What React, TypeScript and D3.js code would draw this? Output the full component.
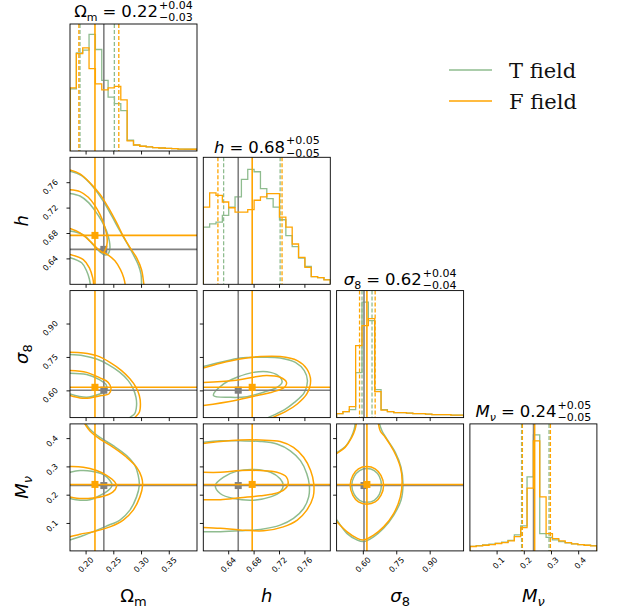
import React from "react";
import * as d3 from "d3";

// ---------- layout ----------
const LEFT = 70, TOP = 24, SIZE = 127, PITCH = 133.3;
const GREEN = "#8fbc8f", ORANGE = "#ffa500", GRAY = "#808080";
const FONT = "DejaVu Sans";

// ---------- axes ----------
const X_DOMAINS: number[][] = [[0.171, 0.40], [0.60, 0.80], [0.48, 1.05], [0.0, 0.467]];
const Y_DOMAINS: number[][] = [[0, 1], [0.60, 0.80], [0.48, 1.05], [0.003, 0.452]];
const TICKS: number[][] = [[0.20, 0.25, 0.30, 0.35], [0.64, 0.68, 0.72, 0.76], [0.60, 0.75, 0.90], [0.1, 0.2, 0.3, 0.4]];
const TICK_FORMATS = [".2f", ".2f", ".2f", ".1f"];
const HIST_MAX = 1.1;

// ---------- 1D histograms (20 bins over the axis range) ----------
const histOmT = [0.538, 0.850, 0.873, 1.01, 0.879, 0.611, 0.466, 0.41, 0.35, 0.093, 0.052, 0.041, 0.035, 0.029, 0.026, 0.023, 0.020, 0.017, 0.015, 0.015];
const histOmF = [0.547, 0.844, 0.893, 0.713, 0.582, 0.530, 0.547, 0.559, 0.442, 0.087, 0.052, 0.041, 0.035, 0.029, 0.026, 0.023, 0.020, 0.017, 0.017, 0.015];
const histHT = [0.495, 0.524, 0.538, 0.597, 0.669, 0.757, 0.908, 0.995, 0.975, 0.829, 0.742, 0.669, 0.559, 0.422, 0.326, 0.227, 0.154, 0.067, 0.058, 0.041];
const histHF = [0.669, 0.792, 0.771, 0.713, 0.663, 0.626, 0.626, 0.646, 0.728, 0.757, 0.786, 0.786, 0.582, 0.495, 0.349, 0.233, 0.146, 0.067, 0.058, 0.038];
const histS8T = [0.035, 0.052, 0.069, 0.390, 1.0, 0.840, 0.243, 0.069, 0.052, 0.043, 0.043, 0.039, 0.035, 0.035, 0.030, 0.026, 0.026, 0.026, 0.022, 0.022];
const histS8F = [0.035, 0.052, 0.095, 0.624, 0.797, 0.857, 0.225, 0.065, 0.052, 0.043, 0.043, 0.039, 0.035, 0.035, 0.030, 0.026, 0.026, 0.026, 0.022, 0.022];
const histMnuT = [0.040, 0.046, 0.052, 0.058, 0.066, 0.075, 0.092, 0.139, 0.217, 0.641, 1.005, 0.150, 0.118, 0.095, 0.081, 0.069, 0.061, 0.055, 0.049, 0.046];
const histMnuF = [0.038, 0.043, 0.049, 0.055, 0.064, 0.072, 0.087, 0.124, 0.202, 0.543, 0.953, 0.468, 0.150, 0.107, 0.087, 0.072, 0.061, 0.055, 0.049, 0.043];

// ---------- quantiles (16%, 84%) ----------
const qOmT = [0.189, 0.251], qOmF = [0.187, 0.259];
const qHT = [0.632, 0.721], qHF = [0.623, 0.724];
const qS8T = [0.594, 0.639], qS8F = [0.583, 0.653];
const qMnuT = [0.190, 0.291], qMnuF = [0.193, 0.296];

// ---------- truths ----------
const truthT = [0.232, 0.655, 0.603, 0.234];
const truthF = [0.216, 0.677, 0.616, 0.238];

// ---------- 2D contours (data coordinates) ----------
// row 1 (h) vs col 0 (Omega_m)
const omH_T_outer = [[0.171, 0.778], [0.192, 0.771], [0.213, 0.753], [0.231, 0.731], [0.246, 0.708], [0.261, 0.684], [0.273, 0.666], [0.285, 0.647], [0.294, 0.631], [0.299, 0.616], [0.300, 0.601], [0.300, 0.585]];
const omH_F_outer = [[0.171, 0.780], [0.189, 0.774], [0.207, 0.760], [0.225, 0.742], [0.240, 0.721], [0.255, 0.697], [0.267, 0.676], [0.279, 0.658], [0.291, 0.642], [0.300, 0.623], [0.304, 0.601], [0.306, 0.585]];
const omH_T_inner = [[0.171, 0.743], [0.189, 0.739], [0.204, 0.729], [0.216, 0.716], [0.228, 0.700], [0.237, 0.684], [0.242, 0.668], [0.243, 0.657], [0.240, 0.648], [0.234, 0.646], [0.225, 0.651], [0.213, 0.662], [0.195, 0.678], [0.171, 0.684]];
const omH_F_inner = [[0.171, 0.749], [0.189, 0.746], [0.204, 0.737], [0.216, 0.724], [0.225, 0.710], [0.232, 0.695], [0.237, 0.679], [0.238, 0.666], [0.236, 0.657], [0.231, 0.650], [0.222, 0.655], [0.207, 0.668], [0.189, 0.681], [0.171, 0.688]];
const omH_F_island = [[0.231, 0.650], [0.240, 0.646], [0.252, 0.637], [0.262, 0.623], [0.268, 0.610], [0.271, 0.597], [0.272, 0.585]];
const omH_T_low = [[0.171, 0.642], [0.192, 0.634], [0.201, 0.621], [0.206, 0.608], [0.208, 0.597], [0.209, 0.585]];
const omH_F_low = [[0.171, 0.647], [0.195, 0.639], [0.206, 0.626], [0.212, 0.610], [0.214, 0.597], [0.215, 0.585]];
// row 2 (sigma8) vs col 0
const omS8_T_outer = [[0.171, 0.763], [0.195, 0.758], [0.219, 0.743], [0.240, 0.718], [0.261, 0.683], [0.276, 0.646], [0.285, 0.609], [0.290, 0.571], [0.291, 0.534], [0.288, 0.499], [0.279, 0.480], [0.273, 0.465]];
const omS8_F_outer = [[0.171, 0.773], [0.195, 0.770], [0.219, 0.758], [0.243, 0.728], [0.264, 0.691], [0.279, 0.654], [0.290, 0.616], [0.296, 0.579], [0.298, 0.541], [0.296, 0.504], [0.288, 0.480], [0.283, 0.465]];
const omS8_T_inner = [[0.171, 0.679], [0.201, 0.673], [0.225, 0.649], [0.236, 0.628], [0.237, 0.601], [0.225, 0.586], [0.201, 0.571], [0.171, 0.586]];
const omS8_F_inner = [[0.171, 0.691], [0.201, 0.683], [0.225, 0.658], [0.240, 0.638], [0.245, 0.609], [0.241, 0.586], [0.228, 0.579], [0.207, 0.568], [0.189, 0.568], [0.171, 0.579]];
// row 2 (sigma8) vs col 1 (h)
const hS8_T_outer = [[0.600, 0.709], [0.627, 0.728], [0.658, 0.748], [0.690, 0.751], [0.721, 0.748], [0.745, 0.728], [0.759, 0.691], [0.764, 0.646], [0.759, 0.592], [0.743, 0.547], [0.728, 0.516], [0.702, 0.480], [0.694, 0.470]];
const hS8_F_outer = [[0.600, 0.703], [0.627, 0.724], [0.658, 0.743], [0.690, 0.754], [0.721, 0.754], [0.748, 0.736], [0.763, 0.699], [0.769, 0.646], [0.763, 0.586], [0.748, 0.541], [0.732, 0.511], [0.709, 0.480], [0.700, 0.470]];
const hS8_T_inner = [[0.616, 0.579], [0.632, 0.631], [0.653, 0.661], [0.679, 0.683], [0.706, 0.683], [0.721, 0.661], [0.724, 0.638], [0.716, 0.616], [0.695, 0.594], [0.669, 0.574], [0.643, 0.571]];
const hS8_F_inner = [[0.600, 0.638], [0.648, 0.646], [0.679, 0.661], [0.700, 0.669], [0.721, 0.661], [0.731, 0.638], [0.728, 0.616], [0.708, 0.594], [0.685, 0.579], [0.648, 0.556], [0.600, 0.534]];
// row 3 (M_nu) vs col 0
const omMnu_T_outer = [[0.195, 0.465], [0.200, 0.451], [0.207, 0.433], [0.225, 0.404], [0.249, 0.375], [0.273, 0.340], [0.288, 0.305], [0.294, 0.270], [0.296, 0.235], [0.291, 0.194], [0.279, 0.147], [0.261, 0.112], [0.237, 0.091], [0.213, 0.071], [0.189, 0.053], [0.171, 0.042], [0.160, 0.036]];
const omMnu_F_outer = [[0.193, 0.465], [0.198, 0.451], [0.207, 0.427], [0.225, 0.398], [0.249, 0.369], [0.273, 0.334], [0.291, 0.299], [0.300, 0.264], [0.302, 0.235], [0.297, 0.194], [0.285, 0.147], [0.267, 0.112], [0.243, 0.088], [0.213, 0.071], [0.189, 0.062], [0.171, 0.053], [0.160, 0.048]];
const omMnu_T_inner = [[0.171, 0.281], [0.189, 0.287], [0.210, 0.285], [0.231, 0.273], [0.243, 0.252], [0.247, 0.235], [0.240, 0.217], [0.225, 0.199], [0.207, 0.184], [0.189, 0.182], [0.171, 0.188]];
const omMnu_F_inner = [[0.171, 0.301], [0.195, 0.299], [0.219, 0.287], [0.237, 0.270], [0.252, 0.246], [0.255, 0.231], [0.248, 0.211], [0.231, 0.196], [0.213, 0.190], [0.192, 0.188], [0.171, 0.194]];
// row 3 vs col 1
const hMnu_T_outer = [[0.600, 0.387], [0.627, 0.392], [0.658, 0.392], [0.690, 0.390], [0.716, 0.381], [0.737, 0.357], [0.753, 0.322], [0.763, 0.276], [0.767, 0.235], [0.766, 0.194], [0.758, 0.153], [0.742, 0.118], [0.721, 0.094], [0.690, 0.079], [0.658, 0.074], [0.627, 0.071], [0.600, 0.071]];
const hMnu_F_outer = [[0.600, 0.383], [0.627, 0.390], [0.658, 0.395], [0.690, 0.395], [0.721, 0.390], [0.742, 0.369], [0.758, 0.334], [0.769, 0.287], [0.774, 0.240], [0.773, 0.194], [0.763, 0.147], [0.748, 0.112], [0.726, 0.088], [0.695, 0.074], [0.658, 0.077], [0.627, 0.083], [0.600, 0.086]];
const hMnu_T_inner = [[0.619, 0.235], [0.632, 0.264], [0.653, 0.285], [0.679, 0.291], [0.706, 0.281], [0.721, 0.258], [0.726, 0.235], [0.721, 0.211], [0.706, 0.194], [0.679, 0.182], [0.648, 0.188], [0.627, 0.205]];
const hMnu_F_inner = [[0.600, 0.281], [0.627, 0.281], [0.658, 0.287], [0.690, 0.287], [0.716, 0.281], [0.731, 0.264], [0.733, 0.235], [0.726, 0.217], [0.711, 0.205], [0.690, 0.198], [0.658, 0.191], [0.627, 0.184], [0.600, 0.184]];
// row 3 vs col 2 (sigma8)
const s8Mnu_T_outer = [[0.670, 0.465], [0.673, 0.451], [0.684, 0.427], [0.706, 0.398], [0.744, 0.351], [0.769, 0.299], [0.778, 0.240], [0.769, 0.182], [0.736, 0.129], [0.691, 0.083], [0.646, 0.053], [0.601, 0.036], [0.571, 0.042], [0.526, 0.065], [0.481, 0.112], [0.470, 0.122]];
const s8Mnu_F_outer = [[0.665, 0.465], [0.668, 0.451], [0.676, 0.427], [0.699, 0.404], [0.736, 0.357], [0.766, 0.299], [0.774, 0.252], [0.766, 0.194], [0.736, 0.135], [0.691, 0.088], [0.646, 0.059], [0.601, 0.042], [0.571, 0.048], [0.526, 0.071], [0.481, 0.106], [0.470, 0.115]];
const s8Mnu_T_upper = [[0.470, 0.346], [0.481, 0.351], [0.518, 0.371], [0.545, 0.404], [0.559, 0.433], [0.563, 0.451], [0.565, 0.465]];
const s8Mnu_F_upper = [[0.470, 0.343], [0.481, 0.348], [0.518, 0.369], [0.548, 0.404], [0.563, 0.433], [0.568, 0.451], [0.570, 0.465]];
const s8Mnu_T_inner = [[0.548, 0.235], [0.559, 0.266], [0.583, 0.287], [0.616, 0.294], [0.649, 0.287], [0.672, 0.266], [0.681, 0.235], [0.672, 0.203], [0.649, 0.182], [0.616, 0.175], [0.583, 0.182], [0.559, 0.203]];
const s8Mnu_F_inner = [[0.541, 0.235], [0.553, 0.270], [0.578, 0.293], [0.616, 0.301], [0.653, 0.293], [0.679, 0.270], [0.691, 0.235], [0.679, 0.199], [0.653, 0.176], [0.616, 0.168], [0.578, 0.176], [0.553, 0.199]];

type C = { r: number; c: number; s: "T" | "F"; closed: boolean; pts: number[][] };
const CONTOURS: C[] = [
  { r: 1, c: 0, s: "T", closed: false, pts: omH_T_outer },
  { r: 1, c: 0, s: "T", closed: false, pts: omH_T_inner },
  { r: 1, c: 0, s: "T", closed: false, pts: omH_T_low },
  { r: 1, c: 0, s: "F", closed: false, pts: omH_F_outer },
  { r: 1, c: 0, s: "F", closed: false, pts: omH_F_inner },
  { r: 1, c: 0, s: "F", closed: false, pts: omH_F_island },
  { r: 1, c: 0, s: "F", closed: false, pts: omH_F_low },
  { r: 2, c: 0, s: "T", closed: false, pts: omS8_T_outer },
  { r: 2, c: 0, s: "T", closed: false, pts: omS8_T_inner },
  { r: 2, c: 0, s: "F", closed: false, pts: omS8_F_outer },
  { r: 2, c: 0, s: "F", closed: false, pts: omS8_F_inner },
  { r: 2, c: 1, s: "T", closed: false, pts: hS8_T_outer },
  { r: 2, c: 1, s: "T", closed: true, pts: hS8_T_inner },
  { r: 2, c: 1, s: "F", closed: false, pts: hS8_F_outer },
  { r: 2, c: 1, s: "F", closed: false, pts: hS8_F_inner },
  { r: 3, c: 0, s: "T", closed: false, pts: omMnu_T_outer },
  { r: 3, c: 0, s: "T", closed: false, pts: omMnu_T_inner },
  { r: 3, c: 0, s: "F", closed: false, pts: omMnu_F_outer },
  { r: 3, c: 0, s: "F", closed: false, pts: omMnu_F_inner },
  { r: 3, c: 1, s: "T", closed: false, pts: hMnu_T_outer },
  { r: 3, c: 1, s: "T", closed: true, pts: hMnu_T_inner },
  { r: 3, c: 1, s: "F", closed: false, pts: hMnu_F_outer },
  { r: 3, c: 1, s: "F", closed: false, pts: hMnu_F_inner },
  { r: 3, c: 2, s: "T", closed: false, pts: s8Mnu_T_outer },
  { r: 3, c: 2, s: "T", closed: false, pts: s8Mnu_T_upper },
  { r: 3, c: 2, s: "T", closed: true, pts: s8Mnu_T_inner },
  { r: 3, c: 2, s: "F", closed: false, pts: s8Mnu_F_outer },
  { r: 3, c: 2, s: "F", closed: false, pts: s8Mnu_F_upper },
  { r: 3, c: 2, s: "F", closed: true, pts: s8Mnu_F_inner },
];

const HISTS = [[histOmT, histOmF], [histHT, histHF], [histS8T, histS8F], [histMnuT, histMnuF]];
const QUANTS = [[qOmT, qOmF], [qHT, qHF], [qS8T, qS8F], [qMnuT, qMnuF]];

// ---------- titles ----------
type Part = { t: string; italic?: boolean; small?: boolean };
const TITLE_SYMS: Part[][] = [
  [{ t: "Ω" }, { t: "m", small: true }],
  [{ t: "h", italic: true }],
  [{ t: "σ", italic: true }, { t: "8", small: true }],
  [{ t: "M", italic: true }, { t: "ν", italic: true, small: true }],
];
const TITLE_VALUES = ["0.22", "0.68", "0.62", "0.24"];
const TITLE_PLUS = ["+0.04", "+0.05", "+0.04", "+0.05"];
const TITLE_MINUS = ["−0.03", "−0.05", "−0.04", "−0.05"];
const TITLE_BASE = [17, 152.5, 285, 417];

let _ctx: CanvasRenderingContext2D | null = null;
function textW(s: string, size: number, italic = false, family = FONT) {
  if (!_ctx && typeof document !== "undefined") _ctx = document.createElement("canvas").getContext("2d");
  if (!_ctx) return s.length * size * 0.6;
  _ctx.font = `${italic ? "italic " : ""}${size}px "${family}"`;
  return _ctx.measureText(s).width;
}

const colX = (c: number) => LEFT + c * PITCH;
const rowY = (r: number) => TOP + r * PITCH;
const xScale = (c: number) => d3.scaleLinear().domain(X_DOMAINS[c]).range([colX(c), colX(c) + SIZE]);
const yScale = (r: number) => d3.scaleLinear().domain(Y_DOMAINS[r]).range([rowY(r) + SIZE, rowY(r)]);

function Title({ k }: { k: number }) {
  const F = 16.5, S = 11;
  const cx = colX(k) + SIZE / 2;
  const y = TITLE_BASE[k];
  const items: { t: string; x: number; size: number; dy: number; italic?: boolean }[] = [];
  let x = 0;
  TITLE_SYMS[k].forEach((p) => {
    const size = p.small ? S : F;
    items.push({ t: p.t, x, size, dy: p.small ? 3.5 : 0, italic: p.italic });
    x += textW(p.t, size, p.italic);
  });
  x += 5;
  items.push({ t: "=", x, size: F, dy: 0 });
  x += textW("=", F) + 5;
  items.push({ t: TITLE_VALUES[k], x, size: F, dy: 0 });
  x += textW(TITLE_VALUES[k], F) + 1;
  const wS = Math.max(textW(TITLE_PLUS[k], S), textW(TITLE_MINUS[k], S));
  const x0 = cx - (x + wS) / 2;
  return (
    <g fontFamily={FONT} fill="#000">
      {items.map((it, i) => (
        <text key={i} x={x0 + it.x} y={y + it.dy} fontSize={it.size} fontStyle={it.italic ? "italic" : "normal"}>{it.t}</text>
      ))}
      <text x={x0 + x} y={y - 8.5} fontSize={S}>{TITLE_PLUS[k]}</text>
      <text x={x0 + x} y={y + 4} fontSize={S}>{TITLE_MINUS[k]}</text>
    </g>
  );
}

function AxisLabel({ k, x, y, rotate }: { k: number; x: number; y: number; rotate?: boolean }) {
  const parts = TITLE_SYMS[k];
  return (
    <text x={x} y={y} fontFamily={FONT} fontSize={18} textAnchor="middle" fill="#000"
      transform={rotate ? `rotate(-90, ${x}, ${y})` : undefined}>
      {parts.map((p, i) => (
        <tspan key={i} fontSize={p.small ? 13 : 18} fontStyle={p.italic ? "italic" : "normal"}
          dy={p.small ? 4 : i > 0 && parts[i - 1].small ? -4 : 0}>{p.t}</tspan>
      ))}
    </text>
  );
}

export default function App() {
  const line = d3.line();
  const frames: JSX.Element[] = [];
  const clips: JSX.Element[] = [];
  const ticks: JSX.Element[] = [];
  const tickLabels: JSX.Element[] = [];

  for (let r = 0; r < 4; r++) {
    for (let c = 0; c <= r; c++) {
      const x0 = colX(c), y0 = rowY(r);
      clips.push(
        <clipPath id={`cp-${r}-${c}`} key={`cp-${r}-${c}`}>
          <rect x={x0} y={y0} width={SIZE} height={SIZE} />
        </clipPath>
      );
      frames.push(<rect key={`f-${r}-${c}`} x={x0} y={y0} width={SIZE} height={SIZE} fill="none" stroke="#000" strokeWidth={0.9} />);
      const xs = xScale(c);
      TICKS[c].forEach((t, i) => {
        const tx = xs(t);
        ticks.push(<line key={`tx-${r}-${c}-${i}`} x1={tx} x2={tx} y1={y0 + SIZE} y2={y0 + SIZE + 3.5} stroke="#000" strokeWidth={0.9} />);
        if (r === 3) {
          const ax = tx + 8, ay = y0 + SIZE + 9.5;
          tickLabels.push(
            <text key={`tlx-${c}-${i}`} x={ax} y={ay} fontSize={8} fontFamily={FONT} textAnchor="end" fill="#000"
              transform={`rotate(-45, ${ax}, ${ay})`}>{d3.format(TICK_FORMATS[c])(t)}</text>
          );
        }
      });
      if (r > c) {
        const ys = yScale(r);
        TICKS[r].forEach((t, i) => {
          const ty = ys(t);
          ticks.push(<line key={`ty-${r}-${c}-${i}`} x1={x0 - 3.5} x2={x0} y1={ty} y2={ty} stroke="#000" strokeWidth={0.9} />);
          if (c === 0) {
            const ax = x0 - 11.5, ay = ty;
            tickLabels.push(
              <text key={`tly-${r}-${i}`} x={ax} y={ay} fontSize={8} fontFamily={FONT} textAnchor="end" fill="#000"
                transform={`rotate(-45, ${ax}, ${ay})`}>{d3.format(TICK_FORMATS[r])(t)}</text>
            );
          }
        });
      }
    }
  }

  // 1D panels
  const diag: JSX.Element[] = [];
  for (let k = 0; k < 4; k++) {
    const xs = xScale(k);
    const y0 = rowY(k);
    const hy = d3.scaleLinear().domain([0, HIST_MAX]).range([y0 + SIZE, y0]);
    const [lo, hi] = X_DOMAINS[k];
    const drawSeries = (s: number) => {
      const vals = HISTS[k][s];
      const n = vals.length;
      const w = (hi - lo) / n;
      const pts: [number, number][] = [[xs(lo), hy(0)]];
      vals.forEach((v, i) => {
        pts.push([xs(lo + i * w), hy(v)]);
        pts.push([xs(lo + (i + 1) * w), hy(v)]);
      });
      pts.push([xs(hi), hy(0)]);
      const col = s === 0 ? GREEN : ORANGE;
      const truth = s === 0 ? truthT[k] : truthF[k];
      return (
        <g key={`d-${k}-${s}`}>
          <path d={line(pts) || ""} fill="none" stroke={col} strokeWidth={1.3} />
          {QUANTS[k][s].map((q, i) => (
            <line key={i} x1={xs(q)} x2={xs(q)} y1={y0} y2={y0 + SIZE} stroke={col} strokeWidth={1.3} strokeDasharray="4 2" />
          ))}
          <line x1={xs(truth)} x2={xs(truth)} y1={y0} y2={y0 + SIZE} stroke={s === 0 ? GRAY : ORANGE} strokeWidth={1.6} />
        </g>
      );
    };
    diag.push(<g key={`diag-${k}`} clipPath={`url(#cp-${k}-${k})`}>{drawSeries(0)}{drawSeries(1)}</g>);
  }

  // 2D panels
  const twoD: JSX.Element[] = [];
  const panels: [number, number][] = [];
  for (let r = 1; r < 4; r++) for (let c = 0; c < r; c++) panels.push([r, c]);
  panels.forEach(([r, c]) => {
    const xs = xScale(c), ys = yScale(r);
    const x0 = colX(c), y0 = rowY(r);
    const cl = (s: "T" | "F") =>
      CONTOURS.filter((d) => d.r === r && d.c === c && d.s === s).map((d, i) => {
        const g = d3.line<number[]>().x((p) => xs(p[0])).y((p) => ys(p[1]))
          .curve(d.closed ? d3.curveCatmullRomClosed : d3.curveCatmullRom);
        return <path key={`${s}-${i}`} d={g(d.pts) || ""} fill="none" stroke={s === "T" ? GREEN : ORANGE} strokeWidth={1.5} />;
      });
    const truthLines = (tr: number[], col: string) => (
      <g>
        <line x1={xs(tr[c])} x2={xs(tr[c])} y1={y0} y2={y0 + SIZE} stroke={col} strokeWidth={1.6} />
        <line x1={x0} x2={x0 + SIZE} y1={ys(tr[r])} y2={ys(tr[r])} stroke={col} strokeWidth={1.6} />
        <rect x={xs(tr[c]) - 3.5} y={ys(tr[r]) - 3.5} width={7} height={7} fill={col} />
      </g>
    );
    twoD.push(
      <g key={`p-${r}-${c}`} clipPath={`url(#cp-${r}-${c})`}>
        {cl("T")}
        {truthLines(truthT, GRAY)}
        {cl("F")}
        {truthLines(truthF, ORANGE)}
      </g>
    );
  });

  return (
    <svg width={618} height={612} style={{ position: "absolute", left: 0, top: 0, background: "#fff" }}>
      <defs>{clips}</defs>
      <rect x={0} y={0} width={618} height={612} fill="#fff" />
      {diag}
      {twoD}
      {frames}
      {ticks}
      {tickLabels}
      {[0, 1, 2, 3].map((k) => <Title key={`t-${k}`} k={k} />)}
      {[0, 1, 2, 3].map((k) => <AxisLabel key={`xl-${k}`} k={k} x={colX(k) + SIZE / 2} y={602} />)}
      {[1, 2, 3].map((k) => <AxisLabel key={`yl-${k}`} k={k} x={28} y={rowY(k) + SIZE / 2} rotate />)}
      <g fontFamily="DejaVu Serif" fontSize={21} fill="#111">
        <line x1={449} x2={492} y1={70} y2={70} stroke={GREEN} strokeWidth={1.3} />
        <text x={509} y={77.5}>T field</text>
        <line x1={449} x2={492} y1={101} y2={101} stroke={ORANGE} strokeWidth={1.3} />
        <text x={509} y={109}>F field</text>
      </g>
    </svg>
  );
}
